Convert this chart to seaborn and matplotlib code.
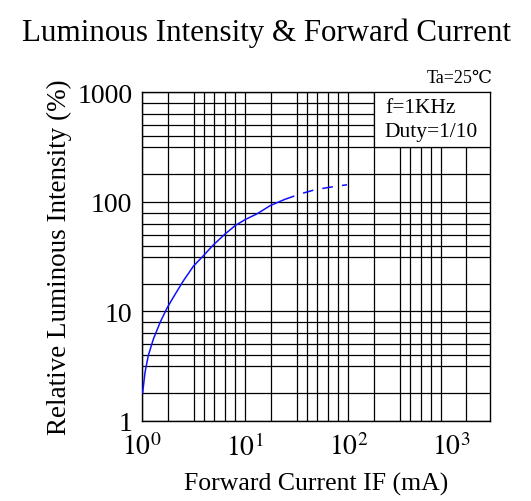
import numpy as np
import pandas as pd
import matplotlib
matplotlib.use('Agg')
import matplotlib.pyplot as plt
import seaborn as sns
from matplotlib.patches import Rectangle

if_measured = [1.0, 1.016, 1.07, 1.15, 1.29, 1.50, 1.74, 2.01, 2.52, 3.15, 3.94,
               4.92, 6.40, 8.0, 10.0, 13.0, 17.5, 23.9]
iv_measured = [1.78, 1.82, 2.77, 3.93, 5.58, 7.93, 10.6, 13.4, 19.0, 25.8, 32.2,
               40.4, 50.9, 60.6, 68.8, 77.5, 92.3, 104.7]
# extrapolated part (dashed)
if_extra = [23.9, 34.2, 47.8, 66.8, 97]
iv_extra = [104.7, 118, 129, 136, 143]

x_ticks = [1, 10, 100, 1000]
x_ticklabels = ['$10^0$', '$10^1$', '$10^2$', '$10^3$']
y_ticks = [1, 10, 100, 1000]
y_ticklabels = ['1', '10', '100', '1000']

sns.set_style('white')
plt.rcParams['font.family'] = ['Liberation Serif', 'DejaVu Serif']
plt.rcParams['mathtext.fontset'] = 'stix'
plt.rcParams.update({'text.color': 'black', 'axes.labelcolor': 'black',
                     'xtick.color': 'black', 'ytick.color': 'black'})

fig = plt.figure(figsize=(5.31, 5.02), dpi=100)
ax = fig.add_axes([142/531, 1 - 421.7/502, 348/531, (421.7 - 93.3)/502])
ax.set_xscale('log')
ax.set_yscale('log')
xmax = 10 ** 3.372
ax.set_xlim(1, xmax)
ax.set_ylim(1, 1000)

# schematic grid like the datasheet
frac = [0, .25, .5, .6, .7, .8, .9]
gx = [d + f for d in range(3) for f in frac] + [3.136]
gy = [d + f for d in range(3) for f in frac] + [3]
for g in gx:
    ax.axvline(10 ** g, color='black', lw=0.9, zorder=1)
for g in gy:
    ax.axhline(10 ** g, color='black', lw=0.9, zorder=1)

sol = pd.DataFrame({'IF': if_measured, 'IV': iv_measured})
ext = pd.DataFrame({'IF': if_extra, 'IV': iv_extra})
sns.lineplot(data=sol, x='IF', y='IV', ax=ax, color='#1010ff', lw=1.1, zorder=3, sort=False)
sns.lineplot(data=ext, x='IF', y='IV', ax=ax, color='#1010ff', lw=1.1, zorder=3, sort=False,
             dashes=False, linestyle=(0, (7, 6)))

# white box for the test conditions
ax.add_patch(Rectangle((10 ** 2.246, 10 ** 2.5), xmax - 10 ** 2.246, 1000 - 10 ** 2.5,
                       facecolor='white', edgecolor='black', lw=0.9, zorder=4))
ax.text(0.698, 0.955, 'f=1KHz', transform=ax.transAxes, fontsize=15.5, va='center', ha='left', zorder=5)
ax.text(0.698, 0.88, 'Duty=1/10', transform=ax.transAxes, fontsize=15.5, va='center', ha='left', zorder=5)

ax.set_xticks(x_ticks)
ax.set_xticklabels(x_ticklabels, fontsize=20)
ax.set_yticks(y_ticks)
ax.set_yticklabels(y_ticklabels, fontsize=20)
ax.minorticks_off()
ax.tick_params(axis='y', length=0, pad=7)
ax.tick_params(axis='x', length=0, pad=9)
for s in ax.spines.values():
    s.set_color('black')
    s.set_linewidth(1.0)

ax.set_xlabel('Forward Current IF (mA)', fontsize=18.5, labelpad=8)
ax.set_ylabel('Relative Luminous Intensity (%)', fontsize=19.5, labelpad=4)
fig.text(266/531, 1 - 33/502, 'Luminous Intensity & Forward Current', fontsize=22.3,
         ha='center', va='center')
ax.text(1.009, 1.045, 'Ta=25℃', transform=ax.transAxes, fontsize=13, ha='right', va='center')

fig.savefig('out.png', dpi=100)
